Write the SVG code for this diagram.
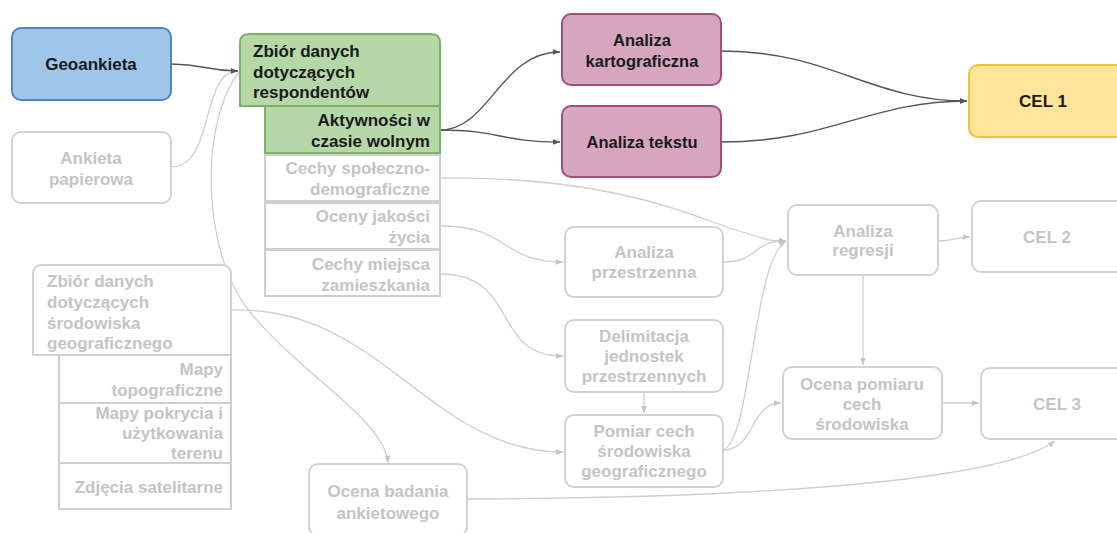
<svg xmlns="http://www.w3.org/2000/svg" width="1117" height="533" viewBox="0 0 1117 533">
  <style>
    text { font-family: "Liberation Sans", Arial, sans-serif; font-weight: bold; font-size: 17px; }
    .dk { fill: #1a1a1a; }
    .lt { fill: #c4c4c4; }
    .mid { text-anchor: middle; }
    .end { text-anchor: end; }
    .sm { font-size: 16.5px; }
    .grey { fill: #ffffff; stroke: #d2d2d2; stroke-width: 2; }
    .sub { fill: #ffffff; stroke: #cfcfcf; stroke-width: 2; }
    .blue { fill: #9fc5e8; stroke: #4a86c8; stroke-width: 2; }
    .green { fill: #b6d7a8; stroke: #7db165; stroke-width: 2; }
    .pink { fill: #d5a6bd; stroke: #a64d79; stroke-width: 2; }
    .yellow { fill: #ffe599; stroke: #f1c232; stroke-width: 2; }
    .cd { fill: none; stroke: #555555; stroke-width: 1.4; marker-end: url(#ahDark); }
    .cl { fill: none; stroke: #cfcfcf; stroke-width: 1.3; marker-end: url(#ahLight); }
  </style>
  <defs>
    <marker id="ahDark" viewBox="0 0 10 10" refX="10" refY="5" markerWidth="7" markerHeight="7" markerUnits="userSpaceOnUse" orient="auto">
      <path d="M0,1 L10,5 L0,9 Z" fill="#555555"/>
    </marker>
    <marker id="ahLight" viewBox="0 0 10 10" refX="10" refY="5" markerWidth="7" markerHeight="7" markerUnits="userSpaceOnUse" orient="auto">
      <path d="M0,1 L10,5 L0,9 Z" fill="#c4c4c4"/>
    </marker>
  </defs>

  <rect width="1117" height="533" fill="#ffffff"/>

  <!-- connectors -->
  <g id="connectors">
    <path class="cl" d="M171,167 C215,167 200,71 238,71"/>
    <path class="cl" d="M240,71 C200,120 200,250 250,312 S385,420 388,463"/>
    <path class="cl" d="M440,178 C610,176 690,215 730,228 S770,241 786,241"/>
    <path class="cl" d="M440,226 C510,226 500,262 563,262"/>
    <path class="cl" d="M440,274 C520,274 490,356 563,356"/>
    <path class="cl" d="M231,310 C380,305 430,452 563,452"/>
    <path class="cl" d="M723,262 C760,262 750,241 786,241"/>
    <path class="cl" d="M723,450 C752,440 752,262 786,241"/>
    <path class="cl" d="M723,450 C755,450 750,403 781,403"/>
    <path class="cl" d="M644,392 V413"/>
    <path class="cl" d="M863,275 V365"/>
    <path class="cl" d="M939,241 C955,241 955,237 970,237"/>
    <path class="cl" d="M942,403 H979"/>
    <path class="cl" d="M468,499 C750,498 1000,482 1055,441"/>
    <path class="cd" d="M171,64 C205,64 205,71 238,71"/>
    <path class="cd" d="M440,130 C490,130 500,52 560,52"/>
    <path class="cd" d="M440,130 C500,130 500,142 560,142"/>
    <path class="cd" d="M722,51 C830,51 870,101 967,101"/>
    <path class="cd" d="M722,142 C830,142 870,101 967,101"/>
  </g>

  <!-- survey sources -->
  <g id="geoankieta">
    <rect class="blue" x="12" y="28" width="159" height="72" rx="9"/>
    <text class="dk mid" x="91" y="70">Geoankieta</text>
  </g>
  <g id="ankieta-papierowa">
    <rect class="grey" x="12" y="132" width="159" height="71" rx="9"/>
    <text class="lt mid" x="91" y="164">Ankieta</text>
    <text class="lt mid" x="91" y="185">papierowa</text>
  </g>

  <!-- respondent data set with its parts -->
  <g id="zbior-respondentow">
    <path class="green" d="M240,106 V43 Q240,34 249,34 H431 Q440,34 440,43 V106 Z"/>
    <text class="dk" x="253" y="57">Zbiór danych</text>
    <text class="dk" x="253" y="78">dotyczących</text>
    <text class="dk" x="253" y="98">respondentów</text>
  </g>
  <g id="aktywnosci">
    <rect class="green" x="265" y="106" width="175" height="47"/>
    <text class="dk end" x="430" y="126">Aktywności w</text>
    <text class="dk end" x="430" y="147">czasie wolnym</text>
  </g>
  <g id="cechy-spoleczne">
    <rect class="sub" x="265" y="155" width="175" height="46"/>
    <text class="lt end" x="430" y="174">Cechy społeczno-</text>
    <text class="lt end" x="430" y="195">demograficzne</text>
  </g>
  <g id="oceny-jakosci">
    <rect class="sub" x="265" y="203" width="175" height="46"/>
    <text class="lt end" x="430" y="222">Oceny jakości</text>
    <text class="lt end" x="430" y="243">życia</text>
  </g>
  <g id="cechy-miejsca">
    <rect class="sub" x="265" y="250" width="175" height="46"/>
    <text class="lt end" x="430" y="270">Cechy miejsca</text>
    <text class="lt end" x="430" y="291">zamieszkania</text>
  </g>

  <!-- geographic environment data set with its parts -->
  <g id="zbior-srodowiska">
    <path class="grey" d="M33,355 V274 Q33,265 42,265 H222 Q231,265 231,274 V355 Z"/>
    <text class="lt" x="47" y="287">Zbiór danych</text>
    <text class="lt" x="47" y="308">dotyczących</text>
    <text class="lt" x="47" y="329">środowiska</text>
    <text class="lt" x="47" y="349">geograficznego</text>
  </g>
  <g id="mapy-topograficzne">
    <rect class="sub" x="59" y="355" width="172" height="48"/>
    <text class="lt end" x="223" y="375">Mapy</text>
    <text class="lt end" x="223" y="396">topograficzne</text>
  </g>
  <g id="mapy-pokrycia">
    <rect class="sub" x="59" y="403" width="172" height="60"/>
    <text class="lt end" x="223" y="419">Mapy pokrycia i</text>
    <text class="lt end" x="223" y="439">użytkowania</text>
    <text class="lt end" x="223" y="459">terenu</text>
  </g>
  <g id="zdjecia">
    <rect class="sub" x="59" y="463" width="172" height="46"/>
    <text class="lt end" x="223" y="493">Zdjęcia satelitarne</text>
  </g>

  <g id="ocena-badania">
    <rect class="grey" x="309" y="464" width="158" height="72" rx="9"/>
    <text class="lt mid" x="388" y="497">Ocena badania</text>
    <text class="lt mid" x="388" y="519">ankietowego</text>
  </g>

  <!-- analyses -->
  <g id="analiza-kartograficzna">
    <rect class="pink" x="562" y="14" width="159" height="71" rx="9"/>
    <text class="dk mid sm" x="642" y="46">Analiza</text>
    <text class="dk mid sm" x="642" y="67">kartograficzna</text>
  </g>
  <g id="analiza-tekstu">
    <rect class="pink" x="562" y="106" width="159" height="71" rx="9"/>
    <text class="dk mid sm" x="642" y="148">Analiza tekstu</text>
  </g>
  <g id="cel-1">
    <rect class="yellow" x="969" y="65" width="160" height="72" rx="9"/>
    <text class="dk mid" x="1043" y="107">CEL 1</text>
  </g>

  <g id="analiza-przestrzenna">
    <rect class="grey" x="565" y="227" width="158" height="70" rx="9"/>
    <text class="lt mid" x="644" y="258">Analiza</text>
    <text class="lt mid" x="644" y="278">przestrzenna</text>
  </g>
  <g id="delimitacja">
    <rect class="grey" x="565" y="320" width="158" height="72" rx="9"/>
    <text class="lt mid" x="644" y="342">Delimitacja</text>
    <text class="lt mid" x="644" y="362">jednostek</text>
    <text class="lt mid" x="644" y="382">przestrzennych</text>
  </g>
  <g id="pomiar-cech">
    <rect class="grey" x="565" y="415" width="158" height="72" rx="9"/>
    <text class="lt mid" x="644" y="437">Pomiar cech</text>
    <text class="lt mid" x="644" y="457">środowiska</text>
    <text class="lt mid" x="644" y="477">geograficznego</text>
  </g>
  <g id="analiza-regresji">
    <rect class="grey" x="788" y="205" width="150" height="70" rx="9"/>
    <text class="lt mid" x="863" y="237">Analiza</text>
    <text class="lt mid" x="863" y="256">regresji</text>
  </g>
  <g id="cel-2">
    <rect class="grey" x="972" y="201" width="160" height="71" rx="9"/>
    <text class="lt mid" x="1047" y="243">CEL 2</text>
  </g>
  <g id="ocena-pomiaru">
    <rect class="grey" x="783" y="367" width="159" height="72" rx="9"/>
    <text class="lt mid" x="862" y="390">Ocena pomiaru</text>
    <text class="lt mid" x="862" y="410">cech</text>
    <text class="lt mid" x="862" y="430">środowiska</text>
  </g>
  <g id="cel-3">
    <rect class="grey" x="981" y="368" width="150" height="71" rx="9"/>
    <text class="lt mid" x="1057" y="410">CEL 3</text>
  </g>
</svg>
